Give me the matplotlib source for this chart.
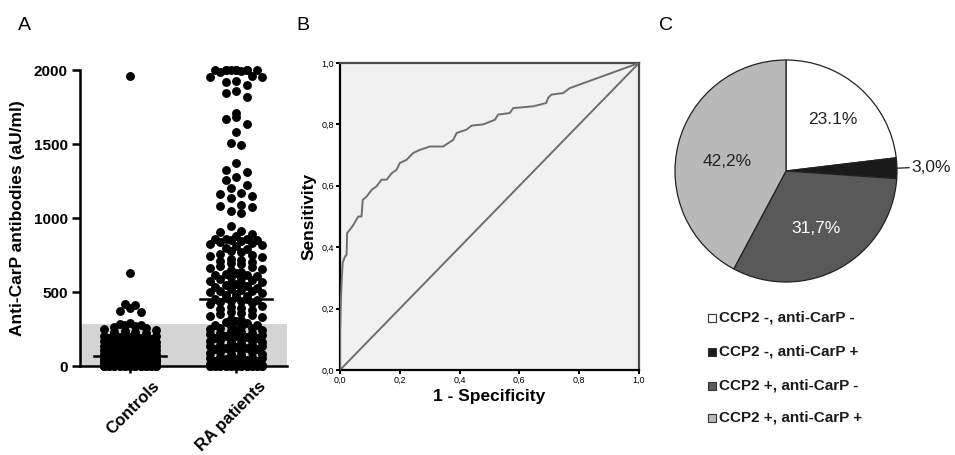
import numpy as np
import matplotlib
matplotlib.use("Agg")
import matplotlib.pyplot as plt
import matplotlib.transforms as mtrans
from matplotlib.patches import Rectangle

plt.rcParams['font.family'] = ['Liberation Sans', 'DejaVu Sans']

# ---------------- data ----------------
categories = ["Controls", "RA patients"]

controls = [
    0, 0, 0, 0, 0, 0, 0, 0, 0, 0, 0, 0, 0, 0, 0, 0, 0, 0, 0, 0, 0, 0, 0, 0, 0,
    5, 7, 9, 10, 12, 13, 15, 16, 18, 20, 21, 22, 24, 25, 26, 28, 29, 30, 31, 32,
    33, 34, 35, 36, 37, 38, 39, 40, 41, 42, 43, 44, 45, 46, 47, 48, 49, 50, 51, 52,
    53, 54, 55, 56, 57, 58, 58, 59, 60, 60, 61, 62, 62, 68, 70,
    70, 72, 74, 76, 78, 80, 82, 84, 86, 88, 90, 92, 94, 96, 98, 100, 102, 105,
    108, 110, 112, 115, 118, 120, 122, 125, 128, 130, 132, 134, 136, 138, 139, 140, 140,
    145, 148, 150, 152, 155, 158, 160, 163, 166, 170, 173, 176, 180, 184, 188, 192,
    195, 198, 202, 206, 210, 214, 218, 220,
    224, 228, 232, 238, 244, 250, 256, 262, 268, 274, 280, 285, 290,
    365, 370, 395, 410, 420, 630, 1960,
]

ra_patients = [
    0, 0, 0, 0, 0, 0, 0, 0, 0, 0, 0, 0, 0, 0, 0, 0, 0, 0, 0, 0, 0, 0,
    8, 12, 16, 20, 24, 28, 32, 36, 40, 44, 48, 52, 56, 60, 64, 68, 72, 76, 80, 84, 88, 92, 96,
    104, 108, 112, 116, 120, 124, 128, 132, 136, 140, 144, 148, 152, 156, 160, 164, 168, 172, 176, 180,
    184, 188, 192, 196, 200,
    205, 210, 215, 220, 225, 230, 235, 240, 245, 250, 255, 260, 265, 270, 275, 280,
    288, 296, 304, 312, 320, 328, 336, 344, 352, 360, 368, 376, 384, 392, 400, 408,
    416, 424, 430, 436, 442, 446, 450,
    456, 462, 468, 474, 480, 486, 492, 498, 504, 510, 516, 522, 528, 534, 540,
    546, 552, 558, 564, 570, 576, 582, 588, 594, 600, 606, 612, 618, 624, 630,
    638, 646, 654, 662, 670, 678, 686, 694, 702, 710, 718, 726, 734, 742, 750,
    760, 770, 780, 790, 800, 808, 815, 822, 830, 837, 845, 848, 852, 856, 858,
    860, 880, 895, 910, 945, 905,
    1035, 1050, 1075, 1080, 1090, 1135, 1150, 1160, 1170, 1205, 1225, 1260, 1275, 1310, 1325, 1370,
    1495, 1505, 1580, 1635, 1670, 1685, 1710, 1815, 1845, 1855, 1900, 1920, 1925,
    1950, 1955, 1960, 1985, 1990, 2000, 2000, 2000, 2000, 2000, 2000, 2000, 2000, 2000,
]
cutoff = 284

roc_fpr = [0.0, 0.0, 0.003, 0.006, 0.009, 0.017, 0.022, 0.024, 0.033, 0.045, 0.061, 0.072,
           0.076, 0.089, 0.106, 0.122, 0.139, 0.156, 0.173, 0.189, 0.200, 0.223, 0.245,
           0.267, 0.301, 0.345, 0.379, 0.390, 0.423, 0.440, 0.479, 0.518, 0.529, 0.568,
           0.579, 0.646, 0.668, 0.690, 0.696, 0.707, 0.746, 0.768, 1.0]
roc_tpr = [0.0, 0.12, 0.228, 0.30, 0.35, 0.37, 0.375, 0.446, 0.457, 0.473, 0.50, 0.50,
           0.554, 0.565, 0.587, 0.598, 0.62, 0.62, 0.641, 0.652, 0.674, 0.685, 0.707,
           0.717, 0.728, 0.728, 0.75, 0.772, 0.783, 0.796, 0.80, 0.815, 0.832, 0.837,
           0.853, 0.859, 0.864, 0.87, 0.886, 0.897, 0.902, 0.918, 1.0]
roc_ticks = [0.0, 0.2, 0.4, 0.6, 0.8, 1.0]

pie_labels = ["CCP2 -, anti-CarP -", "CCP2 -, anti-CarP +",
              "CCP2 +, anti-CarP -", "CCP2 +, anti-CarP +"]
pie_values = [23.1, 3.0, 31.7, 42.2]
pie_texts = ["23.1%", "3,0%", "31,7%", "42,2%"]
pie_colors = ["#ffffff", "#1a1a1a", "#595959", "#b9b9b9"]

# ---------------- figure ----------------
W, H = 955, 455
fig = plt.figure(figsize=(W / 100, H / 100), dpi=100)

# ---------- Panel A ----------
axA = fig.add_axes([80 / W, (H - 366) / H, 207 / W, 296 / H])
axA.set_xlim(-0.472, 1.481)
axA.set_ylim(0, 2000)
axA.axhspan(0, cutoff, color="#d4d4d4", zorder=0, lw=0)

px_x = 1.0 / 106.0          # data units per pixel in x
px_y = 2000.0 / 296.0       # data units per pixel in y
col_sp = 10.5 * px_x
bin_h = 12.0 * px_y
max_cols = 6


def col_offsets(c):
    offs = (np.arange(c) - (c - 1) / 2.0) * col_sp
    order = np.argsort(-(np.abs(offs) + 1e-6 * offs))
    return offs[order]


def swarm_x(vals, center):
    vals = np.sort(np.asarray(vals, dtype=float))
    xs = np.zeros_like(vals)
    bins = np.floor(vals / bin_h).astype(int)
    for b in np.unique(bins):
        idx = list(np.where(bins == b)[0])
        p = 0
        while idx:
            cmax = max_cols if p % 2 == 0 else max_cols - 1
            c = min(len(idx), cmax)
            if p % 2 == 1 and c == len(idx) and c < cmax and len(idx) % 2 == 0:
                pass
            offs = col_offsets(c)
            for k in range(c):
                xs[idx[k]] = center + offs[k]
            idx = idx[c:]
            p += 1
    return xs, vals


for i, data in enumerate([controls, ra_patients]):
    xs, ys = swarm_x(data, i)
    axA.plot(xs, ys, 'o', color="black", ms=6.4, mew=0, clip_on=False, zorder=3)
    med = np.median(data)
    axA.plot([i - 0.34, i + 0.34], [med, med], color="black", lw=1.8, zorder=4)

axA.spines['top'].set_visible(False)
axA.spines['right'].set_visible(False)
axA.spines['left'].set_linewidth(1.8)
axA.spines['bottom'].set_linewidth(1.8)
axA.set_yticks([0, 500, 1000, 1500, 2000])
axA.set_xticks([0, 1])
axA.set_xticklabels(categories, rotation=45, ha="right", rotation_mode="anchor",
                    fontsize=12, fontweight="bold")
axA.tick_params(axis='y', length=6, width=1.8, labelsize=11, pad=3)
axA.tick_params(axis='x', length=5, width=1.8, pad=4)
for t in axA.get_yticklabels():
    t.set_fontweight("bold")
offset = mtrans.ScaledTranslation(22 / 100, 0, fig.dpi_scale_trans)
for t in axA.get_xticklabels():
    t.set_transform(t.get_transform() + offset)
axA.set_ylabel("Anti-CarP antibodies (aU/ml)", fontsize=12.5, fontweight="bold", labelpad=6)

# ---------- Panel B ----------
axB = fig.add_axes([340 / W, (H - 370) / H, 299 / W, 307 / H])
axB.set_facecolor("#f1f1f1")
axB.set_xlim(0, 1)
axB.set_ylim(0, 1)
axB.plot([0, 1], [0, 1], color="#6e6e6e", lw=1.4, zorder=2)
axB.plot(roc_fpr, roc_tpr, color="#6e6e6e", lw=1.4, zorder=3)
for side in ['left', 'bottom']:
    axB.spines[side].set_color("black")
    axB.spines[side].set_linewidth(1.6)
for side in ['top', 'right']:
    axB.spines[side].set_color("#4a4a4a")
    axB.spines[side].set_linewidth(1.6)
axB.set_xticks(roc_ticks)
axB.set_yticks(roc_ticks)
lab = [("%.1f" % v).replace(".", ",") for v in roc_ticks]
axB.set_xticklabels(lab)
axB.set_yticklabels(lab)
axB.tick_params(length=3, width=1.4, labelsize=6.5, pad=1.5, colors="black")
axB.set_xlabel("1 - Specificity", fontsize=12.5, fontweight="bold", labelpad=3)
axB.set_ylabel("Sensitivity", fontsize=12.5, fontweight="bold", labelpad=3)

# ---------- Panel C ----------
R = 111
axC = fig.add_axes([(786 - R) / W, (H - 171 - R) / H, 2 * R / W, 2 * R / H])
wedges, _ = axC.pie(pie_values, colors=pie_colors, startangle=90, counterclock=False,
                    wedgeprops=dict(edgecolor="#222222", linewidth=0.9))
axC.set_xlim(-1, 1)
axC.set_ylim(-1, 1)
axC.set_aspect("equal")
axC.axis("off")

txt_pos = [(0.42, 0.46), None, (0.27, -0.52), (-0.53, 0.09)]
txt_col = ["#222222", None, "white", "#222222"]
for k, pos in enumerate(txt_pos):
    if pos is None:
        continue
    axC.text(pos[0], pos[1], pie_texts[k], ha="center", va="center",
             fontsize=12.5, color=txt_col[k])
ang = np.deg2rad(90 - 360 * (pie_values[0] + pie_values[1] / 2) / 100)
axC.plot([np.cos(ang), 1.11], [np.sin(ang), 0.03], color="#222222", lw=0.9, clip_on=False)
axC.text(1.13, 0.03, pie_texts[1], ha="left", va="center", fontsize=12.5, color="#222222",
         clip_on=False)

leg_y = [318, 352, 386, 418]
for k, lbl in enumerate(pie_labels):
    y = 1 - leg_y[k] / H
    fig.patches.append(Rectangle((708 / W, y - 4 / H), 8 / W, 8 / H, transform=fig.transFigure,
                                 facecolor=pie_colors[k], edgecolor="#333333", lw=0.8))
    fig.text(719 / W, y, lbl, fontsize=11, fontweight="bold", va="center", ha="left",
             color="#1a1a1a")

fig.text(18 / W, 1 - 25 / H, "A", fontsize=14, va="center", ha="left")
fig.text(296 / W, 1 - 25 / H, "B", fontsize=14, va="center", ha="left")
fig.text(659 / W, 1 - 25 / H, "C", fontsize=14, va="center", ha="left")

fig.savefig("out.png", dpi=100)
